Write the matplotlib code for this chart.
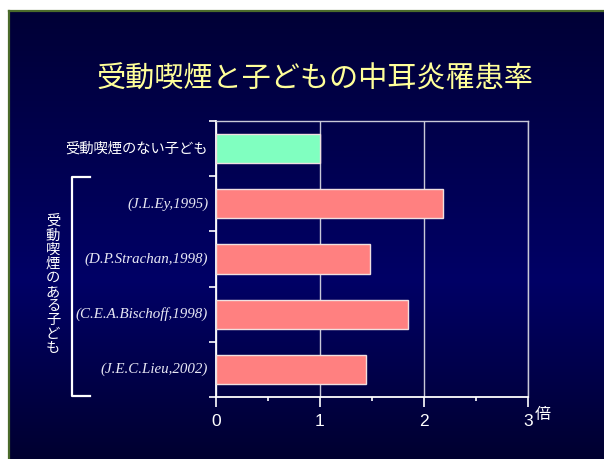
import matplotlib
matplotlib.use("Agg")
import matplotlib.pyplot as plt
import numpy as np
from matplotlib.lines import Line2D
from matplotlib.colors import LinearSegmentedColormap

# data
title = "受動喫煙と子どもの中耳炎罹患率"
labels = ["受動喫煙のない子ども", "(J.L.Ey,1995)", "(D.P.Strachan,1998)",
          "(C.E.A.Bischoff,1998)", "(J.E.C.Lieu,2002)"]
values = [1.0, 2.18, 1.48, 1.85, 1.44]
bar_colors = ["#80FFC0", "#FF8080", "#FF8080", "#FF8080", "#FF8080"]
group_label = "受動喫煙のある子ども"
x_ticks = [0, 1, 2, 3]
x_unit = "倍"

W, H = 604, 459
fig = plt.figure(figsize=(W / 100, H / 100), dpi=100, facecolor="white")

def fx(px):
    return px / W

def fy(py):
    return 1 - py / H

# slide background with vertical gradient
bg = fig.add_axes([fx(9), 0, 1 - fx(9), fy(11)])
cmap = LinearSegmentedColormap.from_list(
    "slide", [(0, "#000036"), (0.6, "#000066"), (1, "#000030")])
grad = np.linspace(0, 1, 256).reshape(-1, 1)
bg.imshow(grad, aspect="auto", cmap=cmap, extent=[0, 1, 0, 1], origin="upper")
bg.set_axis_off()
fig.add_artist(Line2D([fx(9), fx(9)], [0, fy(11)], color="#4b6b2b", lw=1.6))
fig.add_artist(Line2D([fx(9), 1], [fy(11), fy(11)], color="#4b6b2b", lw=1.6))

# title
fig.text(fx(315), fy(80), title, color="#FFFF99", fontsize=21,
         family=["Noto Sans CJK JP", "DejaVu Sans"], ha="center", va="center")

# chart
ax = fig.add_axes([fx(216), fy(397), fx(312), 276 / H])
ax.set_facecolor("none")
y = np.arange(len(values))
ax.barh(y, values, height=0.53, color=bar_colors, edgecolor="#f0e0e0",
        linewidth=1.0, zorder=3)
ax.set_xlim(0, 3)
ax.set_ylim(len(values) - 0.5, -0.5)

ax.set_xticks(x_ticks)
ax.set_xticks([0.5, 1.5, 2.5], minor=True)
ax.set_xticklabels([str(t) for t in x_ticks], color="white", fontsize=12.5,
                   family="Liberation Sans")
ax.tick_params(axis="x", which="major", length=7, width=1.2, color="white", pad=5)
ax.tick_params(axis="x", which="minor", length=3, width=1.2, color="white")
ax.set_yticks(np.arange(-0.5, len(values), 1.0))
ax.set_yticklabels([])
ax.tick_params(axis="y", length=5, width=1.2, color="white")
ax.grid(axis="x", color="#c8c8d8", lw=1.0, zorder=1)

for side in ["left", "bottom"]:
    ax.spines[side].set_color("white")
    ax.spines[side].set_linewidth(1.3)
for side in ["top", "right"]:
    ax.spines[side].set_color("#c8c8d8")
    ax.spines[side].set_linewidth(1.0)

# category labels
for i, lab in enumerate(labels):
    if i == 0:
        ax.text(-0.075, i, lab, color="white", fontsize=10.3,
                family=["Noto Sans CJK JP", "DejaVu Sans"],
                ha="right", va="center")
    else:
        ax.text(-0.075, i, lab, color="#e8e8f4", fontsize=10.8,
                family="Liberation Serif", style="italic",
                ha="right", va="center")

# unit label
fig.text(fx(543), fy(414), x_unit, color="white", fontsize=11.5,
         family=["Noto Sans CJK JP", "DejaVu Sans"], ha="center", va="center")

# group bracket and vertical label
fig.add_artist(Line2D([fx(90), fx(72), fx(72), fx(90)],
                      [fy(177), fy(177), fy(396), fy(396)],
                      color="white", lw=1.6))
fig.text(fx(53), fy(285), "\n".join(group_label), color="white", fontsize=10.3,
         family=["Noto Sans CJK JP", "DejaVu Sans"], ha="center", va="center",
         linespacing=1.0)

fig.savefig("out.png", dpi=100, facecolor="white")
